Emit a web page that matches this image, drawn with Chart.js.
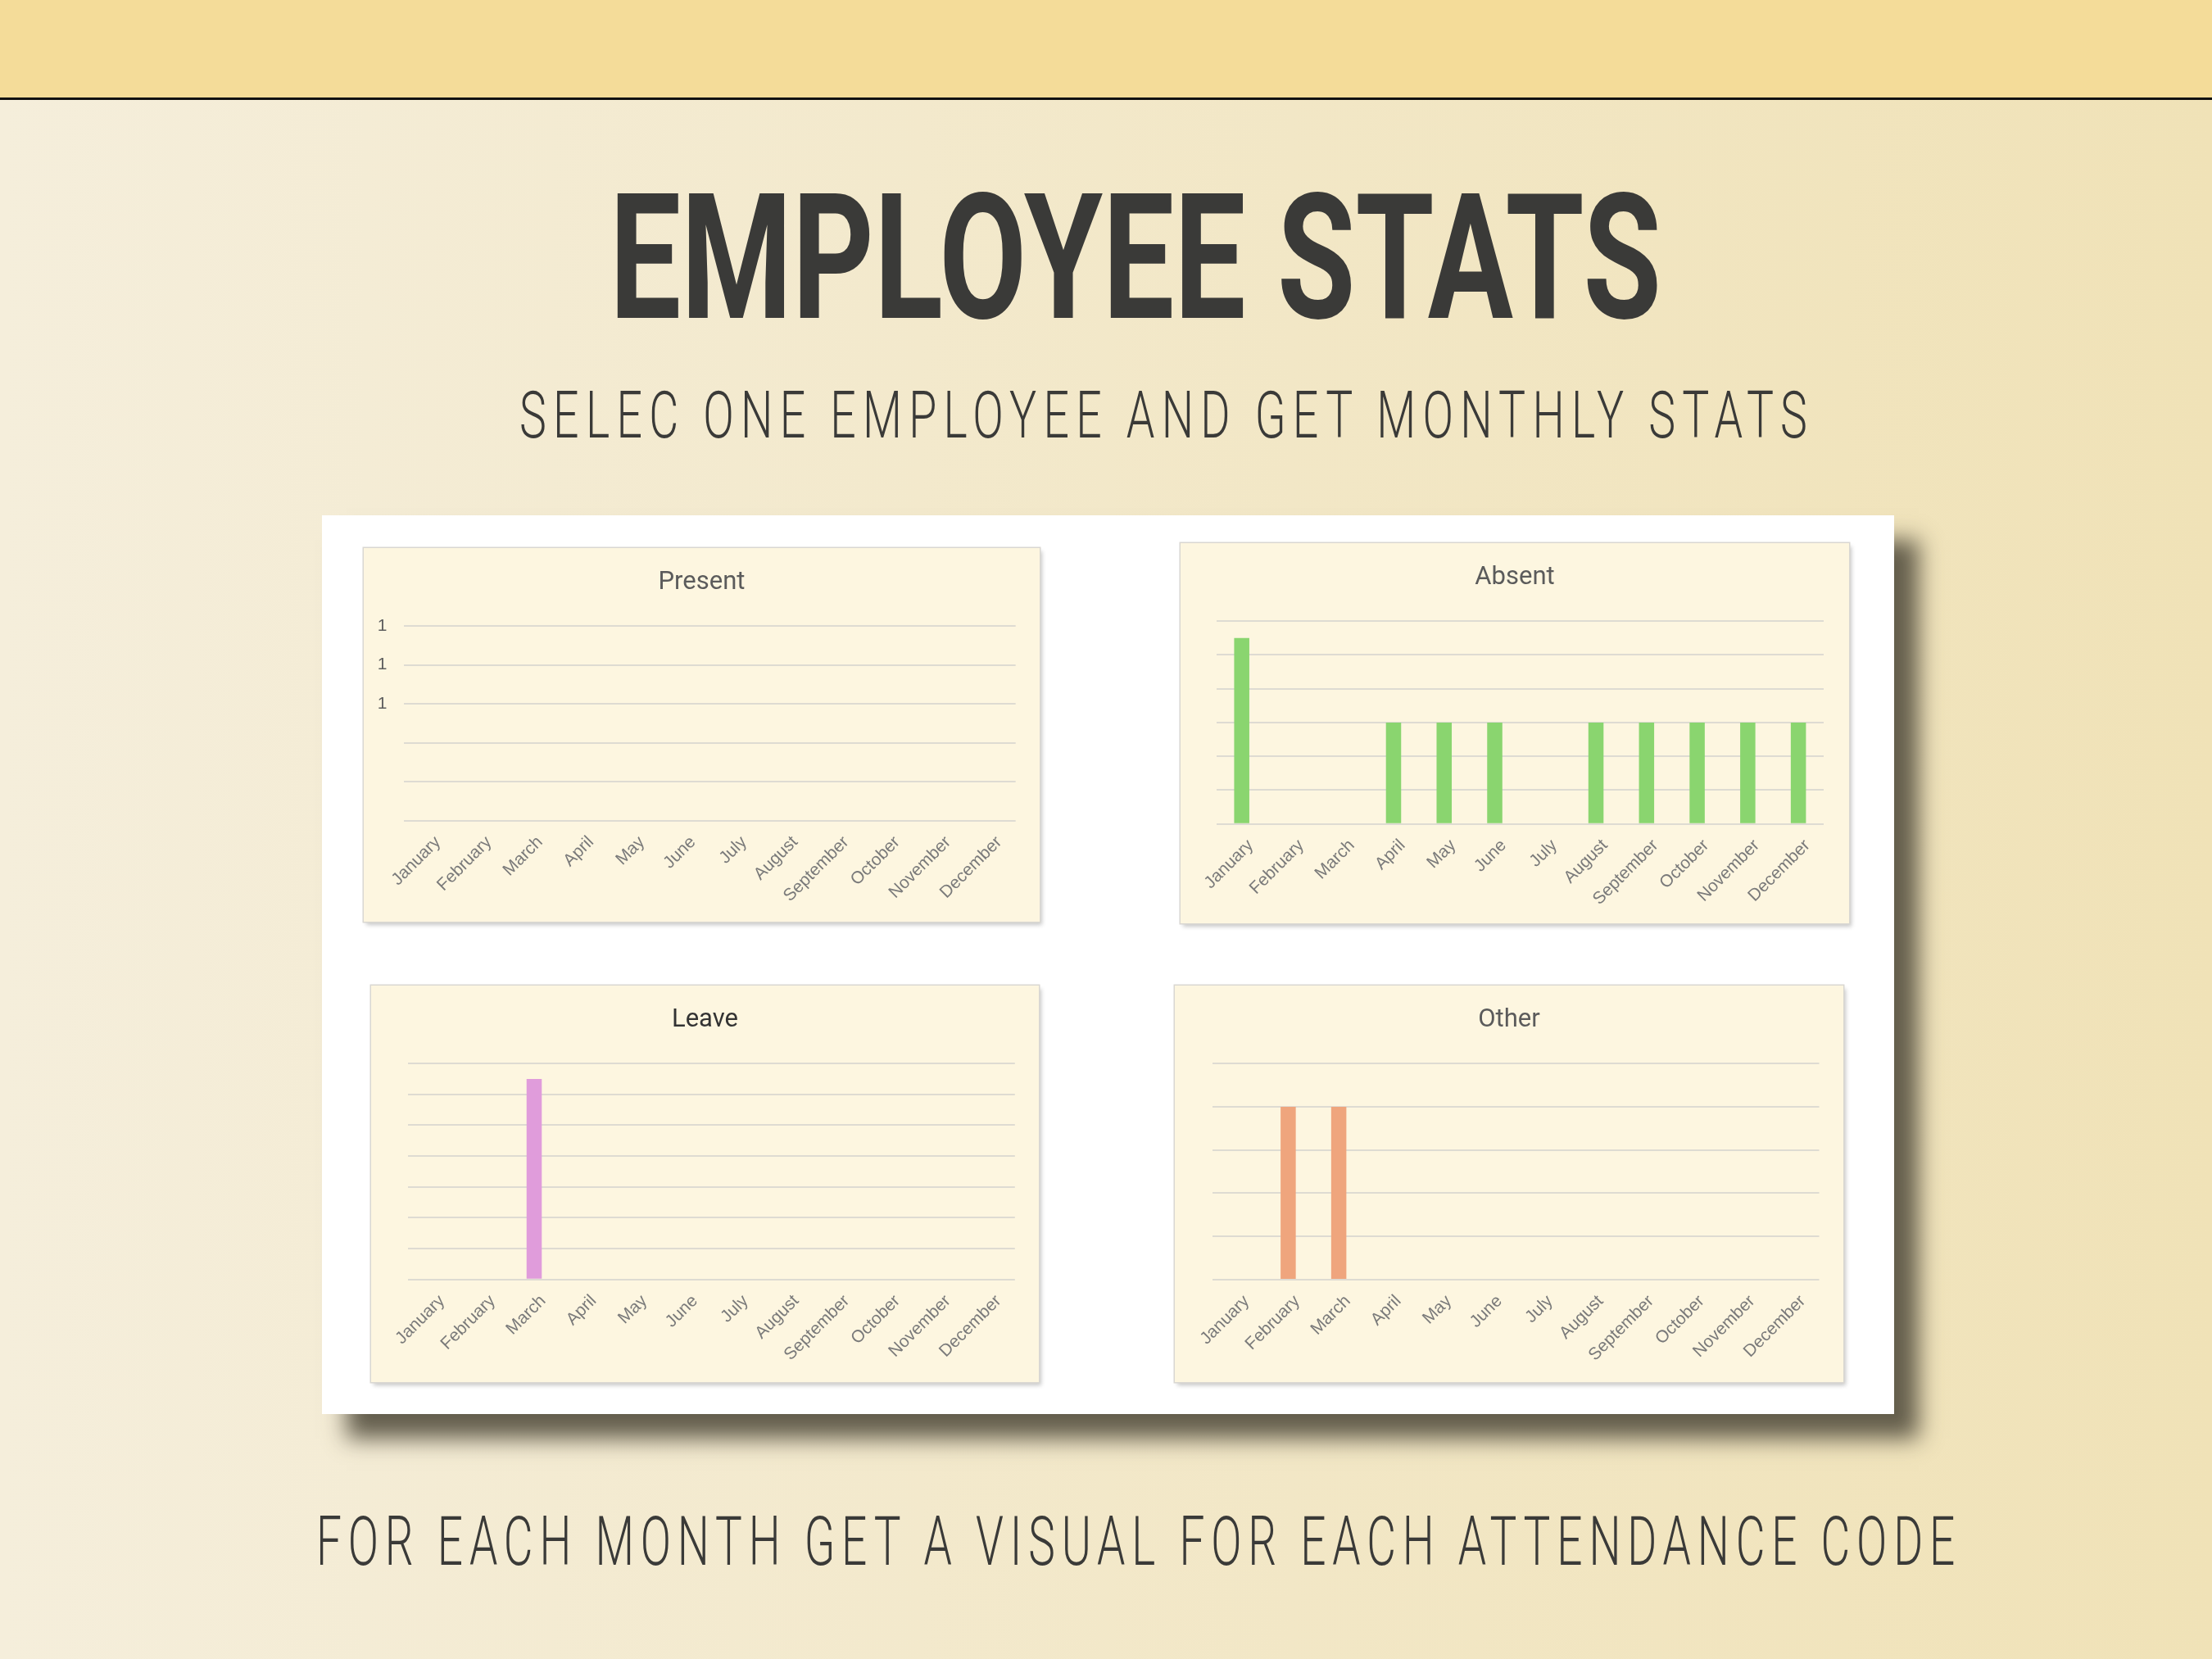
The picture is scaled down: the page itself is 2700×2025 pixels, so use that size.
<!DOCTYPE html>
<html>
<head>
<meta charset="utf-8">
<script src="https://cdn.jsdelivr.net/npm/chart.js@4.4.1/dist/chart.umd.min.js"></script>
<style>
  html, body { margin: 0; padding: 0; }
  body {
    width: 2700px; height: 2025px; overflow: hidden; position: relative;
    background: linear-gradient(to right, #f5eedb, #f0e2b7);
  }
  .topo { position: absolute; left: 0; top: 0; width: 2700px; height: 119px; background: #f4dc99; }
  .linha { position: absolute; left: 0; top: 119px; width: 2700px; height: 3px; background: #111; }
  .texto { position: absolute; white-space: nowrap; line-height: 1; color: #3a3a38; transform-origin: 0 0; }
  #titulo { font-family: Roboto, "DejaVu Sans", sans-serif; font-weight: 700; font-size: 214px; }
  #subtitulo { font-family: Roboto, "DejaVu Sans", sans-serif; font-weight: 300; font-size: 80px; letter-spacing: 12px; }
  #rodape { font-family: Roboto, "DejaVu Sans", sans-serif; font-weight: 300; font-size: 84px; letter-spacing: 12px; }
  .painel {
    position: absolute; left: 393px; top: 629px; width: 1919px; height: 1097px; background: #fff;
    box-shadow: 30px 30px 26px rgba(88, 83, 66, 0.92);
  }
  .card {
    position: absolute; background: #fdf6e0;
    box-shadow: 0 0 0 1.5px #d9d7d2, 3px 4px 5px rgba(0, 0, 0, 0.22);
  }
  .card canvas { position: absolute; left: 0; top: 0; }
</style>
</head>
<body>
<div class="topo"></div>
<div class="linha"></div>
<div id="titulo" class="texto" data-x="744" data-w="1284" style="top:208px">EMPLOYEE STATS</div>
<div id="subtitulo" class="texto" data-x="634" data-w="1572" style="top:467px">SELEC ONE EMPLOYEE AND GET MONTHLY STATS</div>
<div class="painel"></div>

<div class="card" style="left:444px; top:669px; width:825px; height:456px;"><canvas id="graficoPresent" width="825" height="456"></canvas></div>
<div class="card" style="left:1441px; top:663px; width:816px; height:464px;"><canvas id="graficoAbsent" width="816" height="464"></canvas></div>
<div class="card" style="left:453px; top:1203px; width:815px; height:484px;"><canvas id="graficoLeave" width="815" height="484"></canvas></div>
<div class="card" style="left:1434px; top:1203px; width:816px; height:484px;"><canvas id="graficoOther" width="816" height="484"></canvas></div>

<div id="rodape" class="texto" data-x="386" data-w="2000" style="top:1840px">FOR EACH MONTH GET A VISUAL FOR EACH ATTENDANCE CODE</div>

<script>
const meses = ["January", "February", "March", "April", "May", "June", "July", "August", "September", "October", "November", "December"];

const valoresPresent = [0, 0, 0, 0, 0, 0, 0, 0, 0, 0, 0, 0];
const valoresAbsent = [11, 0, 0, 6, 6, 6, 0, 6, 6, 6, 6, 6];
const valoresLeave = [0, 0, 13, 0, 0, 0, 0, 0, 0, 0, 0, 0];
const valoresOther = [0, 2, 2, 0, 0, 0, 0, 0, 0, 0, 0, 0];

// eixo y de cada grafico: [max, passo]
const eixoPresent = [1, 0.2];
const eixoAbsent = [12, 2];
const eixoLeave = [14, 2];
const eixoOther = [2.5, 0.5];

// ajusta a largura dos textos grandes (o espaco final do letter-spacing fica de fora)
document.querySelectorAll(".texto").forEach(function (el) {
  let extra = parseFloat(getComputedStyle(el).letterSpacing) || 0;
  let escala = Number(el.dataset.w) / (el.offsetWidth - extra);
  el.style.left = el.dataset.x + "px";
  el.style.transform = "scaleX(" + escala + ")";
});

function criarGrafico(id, titulo, corTitulo, valores, cor, eixo, larguraY, alturaX, margemDir, mostrarY) {
  const ctx = document.getElementById(id);
  new Chart(ctx, {
    type: 'bar',
    data: {
      labels: meses,
      datasets: [{
        label: titulo,
        data: valores,
        backgroundColor: cor,
        borderWidth: 0,
        categoryPercentage: 1,
        barPercentage: 0.3
      }]
    },
    options: {
      responsive: false,
      animation: false,
      layout: { padding: 0 },
      plugins: {
        legend: { display: false },
        tooltip: { enabled: false },
        title: {
          display: true,
          text: titulo,
          color: corTitulo,
          font: { family: 'Roboto', size: 31, weight: 'normal', lineHeight: 1.2 },
          padding: { top: 24, bottom: 34 }
        }
      },
      scales: {
        x: {
          grid: { display: false, drawTicks: false },
          border: { display: false },
          ticks: {
            color: '#7a7a7a',
            font: { family: 'Liberation Sans', size: 21 },
            maxRotation: 45,
            minRotation: 45,
            padding: 14,
            labelOffset: 11,
            autoSkip: false
          },
          afterFit: function (scale) { scale.height = alturaX; }
        },
        y: {
          min: 0,
          max: eixo[0],
          grid: { color: '#dedbd2', lineWidth: 2, drawTicks: false },
          border: { display: false },
          ticks: {
            display: mostrarY,
            stepSize: eixo[1],
            color: '#5e5e5e',
            font: { family: 'Liberation Sans', size: 21 },
            padding: 20,
            callback: function (v) {
              let r = Math.round(v);
              return r === 0 ? '' : r;
            }
          },
          afterFit: function (scale) { scale.width = larguraY; }
        },
        // eixo vazio a direita so para a margem, assim o titulo fica centrado no card
        margem: {
          position: 'right',
          display: true,
          grid: { display: false, drawTicks: false },
          border: { display: false },
          ticks: { display: false },
          afterFit: function (scale) { scale.width = margemDir; }
        }
      }
    }
  });
}

criarGrafico('graficoPresent', 'Present', '#5b5b5b', valoresPresent, '#8ad56f', eixoPresent, 48.5, 123.3, 29.3, true);
criarGrafico('graficoAbsent', 'Absent', '#5b5b5b', valoresAbsent, '#8ad56f', eixoAbsent, 43.8, 121.3, 31, false);
criarGrafico('graficoLeave', 'Leave', '#333333', valoresLeave, '#e09cdb', eixoLeave, 44.6, 125.3, 29.2, false);
criarGrafico('graficoOther', 'Other', '#5b5b5b', valoresOther, '#efa57d', eixoOther, 45.8, 125, 29.5, false);
</script>
</body>
</html>
